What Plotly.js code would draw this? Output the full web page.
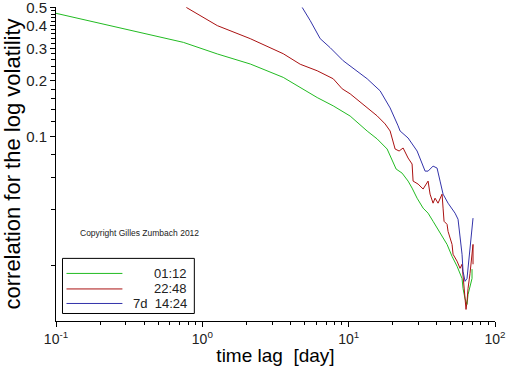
<!DOCTYPE html>
<html>
<head>
<meta charset="utf-8">
<script src="https://cdn.plot.ly/plotly-3.0.1.min.js"></script>
<style>html,body{margin:0;padding:0;background:#fff;}#chart{width:512px;height:366px;}</style>
</head>
<body>
<div id="chart"></div>
<script>
// time lag [day] and correlation values
const greenX = [0.1, 0.147, 0.255, 0.442, 0.742, 1.266, 2.126, 3.572, 4.666, 6.095, 7.842, 10.24, 13.38, 15.65, 18.32, 21.1, 23.18, 25.47, 27.13, 29.35, 32.26, 34.89, 37.74, 40.19, 44.17, 47.03, 50.88, 55.04, 59.53, 60.48, 62.41, 64.40, 65.42, 69.66, 69.66];
const greenY = [0.465, 0.4335, 0.391, 0.355, 0.3235, 0.280, 0.247, 0.209, 0.184, 0.1625, 0.1465, 0.129, 0.107, 0.097, 0.0855, 0.0666, 0.0633, 0.0573, 0.0525, 0.0463, 0.0409, 0.0384, 0.0347, 0.0318, 0.0281, 0.026, 0.0224, 0.0198, 0.017, 0.015, 0.0132, 0.0123, 0.0139, 0.017, 0.0191];

const redX = [0.778, 1.266, 2.126, 3.572, 4.666, 6.095, 7.842, 9.029, 10.24, 13.38, 15.65, 17.75, 19.20, 20.77, 22.12, 23.55, 25.47, 27.13, 27.56, 29.82, 32.26, 34.89, 36.00, 37.74, 38.94, 40.82, 43.48, 44.17, 44.86, 47.03, 47.78, 50.88, 51.68, 55.04, 57.69, 59.53, 60.48, 62.41, 63.39, 64.40, 65.42, 67.51, 69.66, 70.76, 70.76];
const redY = [0.5, 0.3986, 0.3388, 0.2808, 0.2462, 0.227, 0.2054, 0.1812, 0.1702, 0.1428, 0.1293, 0.1169, 0.1071, 0.0855, 0.0834, 0.0866, 0.0764, 0.0709, 0.0573, 0.0552, 0.0519, 0.0573, 0.0487, 0.0435, 0.0463, 0.0435, 0.0487, 0.0409, 0.0347, 0.0334, 0.0306, 0.026, 0.023, 0.0211, 0.0193, 0.0203, 0.0179, 0.0139, 0.01155, 0.01276, 0.015, 0.0181, 0.023, 0.026, 0.0203];

const blueX = [4.815, 5.461, 6.39, 7.477, 9.173, 10.24, 13.38, 16.41, 19.2, 21.77, 22.46, 25.47, 29.35, 33.29, 34.89, 37.74, 40.19, 42.13, 44.17, 47.78, 53.33, 55.9, 57.69, 59.53, 60.48, 62.41, 64.4, 66.46, 68.59, 69.66, 70.76];
const blueY = [0.5, 0.4244, 0.3388, 0.3027, 0.2573, 0.2416, 0.2054, 0.1767, 0.1428, 0.1141, 0.1071, 0.0981, 0.0834, 0.0649, 0.0649, 0.0691, 0.0674, 0.0573, 0.0487, 0.0435, 0.0384, 0.0356, 0.0295, 0.023, 0.0186, 0.0164, 0.017, 0.0219, 0.0281, 0.0347, 0.0361];

const seriesNames = ["01:12", "22:48", "7d\u00a0\u00a014:24"];
const seriesColors = ["#22bb22", "#aa1111", "#3333aa"];

const xTickVals = [0.1, 1, 10, 100];
const xTickText = ["10<sup>-1</sup>", "10<sup>0</sup>", "10<sup>1</sup>", "10<sup>2</sup>"];
const xMinorVals = [0.2,0.3,0.4,0.5,0.6,0.7,0.8,0.9,2,3,4,5,6,7,8,9,20,30,40,50,60,70,80,90];
const yTickVals = [0.1, 0.2, 0.3, 0.4, 0.5];
const yTickText = ["0.1", "0.2", "0.3", "0.4", "0.5"];
const yMinorVals = [0.02,0.04,0.06,0.08,0.12,0.14,0.16,0.18,0.22,0.24,0.26,0.28,0.32,0.34,0.36,0.38,0.42,0.44,0.46,0.48];

const xs = [greenX, redX, blueX];
const ys = [greenY, redY, blueY];
const traces = xs.map((x, i) => ({
  x: x, y: ys[i], type: "scatter", mode: "lines", name: seriesNames[i],
  line: {color: seriesColors[i], width: 1}, showlegend: false, hoverinfo: "skip"
}));

const font = "Liberation Sans, Arial, sans-serif";
// manual legend box (paper coords)
const legendRows = [0.1515, 0.1021, 0.0558];
const shapes = [{type: "rect", xref: "paper", yref: "paper", x0: 0.0148, x1: 0.3151, y0: 0.0239, y1: 0.1994,
  line: {color: "#000", width: 1}, fillcolor: "#fff", layer: "above"}];
const annotations = [];
legendRows.forEach((yy, i) => {
  shapes.push({type: "line", xref: "paper", yref: "paper", x0: 0.0239, x1: 0.1513, y0: yy, y1: yy,
    line: {color: seriesColors[i], width: 1}, layer: "above"});
  annotations.push({xref: "paper", yref: "paper", x: 0.3038, y: yy, xanchor: "right", yanchor: "middle",
    text: seriesNames[i], showarrow: false, font: {family: font, size: 13, color: "#222"}});
});
annotations.push({xref: "paper", yref: "paper", x: 0.0512, y: 0.279, xanchor: "left", yanchor: "middle",
  text: "Copyright Gilles Zumbach 2012", showarrow: false, font: {family: font, size: 8.5, color: "#222"}});

const layout = {
  width: 512, height: 366,
  margin: {l: 56, r: 17, t: 7, b: 45},
  paper_bgcolor: "#fff", plot_bgcolor: "#fff",
  showlegend: false,
  font: {family: font, color: "#222"},
  xaxis: {
    type: "log", range: [-1, 2], showgrid: false, zeroline: false,
    showline: true, linecolor: "#000", linewidth: 1, mirror: false,
    ticks: "outside", ticklen: 5, tickcolor: "#000", tickwidth: 1,
    tickmode: "array", tickvals: xTickVals, ticktext: xTickText,
    tickfont: {family: font, size: 14, color: "#222"},
    minor: {tickmode: "array", tickvals: xMinorVals, ticks: "outside", ticklen: 3, tickcolor: "#000", showgrid: false},
    title: {text: "time lag\u00a0\u00a0[day]", font: {family: font, size: 19, color: "#000"}, standoff: 4},
    automargin: false
  },
  yaxis: {
    type: "log", range: [-2, Math.log10(0.503)], showgrid: false, zeroline: false,
    showline: true, linecolor: "#000", linewidth: 1, mirror: false,
    ticks: "outside", ticklen: 5, tickcolor: "#000", tickwidth: 1,
    tickmode: "array", tickvals: yTickVals, ticktext: yTickText,
    ticklabeloverflow: "allow",
    tickfont: {family: font, size: 15, color: "#222"},
    minor: {tickmode: "array", tickvals: yMinorVals, ticks: "outside", ticklen: 4, tickcolor: "#000", showgrid: false},
    title: {text: "correlation for the log volatility", font: {family: font, size: 22, color: "#000"}, standoff: 2},
    automargin: false
  },
  shapes: shapes,
  annotations: annotations
};

Plotly.newPlot("chart", traces, layout, {staticPlot: true, displayModeBar: false});
</script>
</body>
</html>
